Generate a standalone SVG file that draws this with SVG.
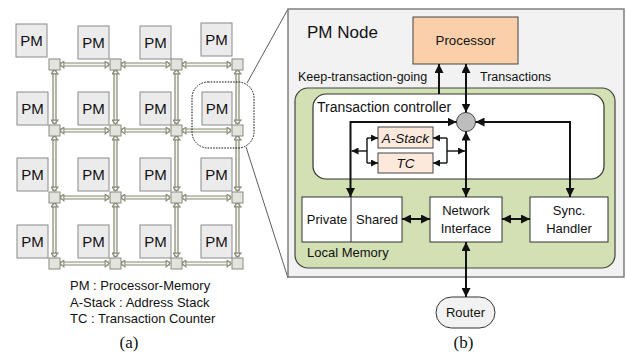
<svg xmlns="http://www.w3.org/2000/svg" width="626" height="354" viewBox="0 0 626 354">
<style>
text{font-family:"Liberation Sans",Arial,sans-serif;fill:#111}
.pm rect{fill:#ebebeb;stroke:#8a8a8a;stroke-width:1}
.pm text{font-size:15px;text-anchor:middle}
.rt{fill:#e4e4de;stroke:#8a8a80;stroke-width:1}
.lo{fill:none;stroke:#858a76;stroke-width:4.2}
.li{fill:none;stroke:#f6f6f0;stroke-width:1.8;marker-start:url(#sa);marker-end:url(#sa)}
.ln{fill:none;stroke:#111;stroke-width:2}
.lb{fill:none;stroke:#111;stroke-width:1.4}
.box{fill:#fff;stroke:#333;stroke-width:1}
.lbl{font-size:13px;text-anchor:middle}
</style>
<defs>
<marker id="sa" markerUnits="userSpaceOnUse" markerWidth="6" markerHeight="8" refX="3.2" refY="3" orient="auto-start-reverse" viewBox="0 0 4 6">
<path d="M0.3,0.4 L3.3,3 L0.3,5.6 z" fill="#f6f6f0" stroke="#858a76" stroke-width="0.8"/>
</marker>
<marker id="ah" markerUnits="userSpaceOnUse" markerWidth="9" markerHeight="9" refX="8" refY="4" orient="auto-start-reverse" viewBox="0 0 8 8">
<path d="M0,0 L8,4 L0,8 z" fill="#111"/>
</marker>
<marker id="as" markerUnits="userSpaceOnUse" markerWidth="7" markerHeight="7" refX="6" refY="3" orient="auto-start-reverse" viewBox="0 0 6 6">
<path d="M0,0 L6,3 L0,6 z" fill="#111"/>
</marker>
</defs>

<!-- (a) mesh -->
<g id="pm-nodes">
<g id="pm11" class="pm"><rect x="16" y="24" width="31" height="33"/><text x="31.5" y="46">PM</text></g>
<g id="pm12" class="pm"><rect x="78" y="26" width="31" height="33"/><text x="93.5" y="48">PM</text></g>
<g id="pm13" class="pm"><rect x="140" y="26" width="31" height="33"/><text x="155.5" y="48">PM</text></g>
<g id="pm14" class="pm"><rect x="201" y="23" width="31" height="33"/><text x="216.5" y="45">PM</text></g>
<g id="pm21" class="pm"><rect x="17" y="92" width="31" height="33"/><text x="32.5" y="114">PM</text></g>
<g id="pm22" class="pm"><rect x="78" y="92" width="31" height="33"/><text x="93.5" y="114">PM</text></g>
<g id="pm23" class="pm"><rect x="140" y="92" width="31" height="33"/><text x="155.5" y="114">PM</text></g>
<g id="pm24" class="pm"><rect x="202" y="92" width="30" height="33"/><text x="217" y="114">PM</text></g>
<g id="pm31" class="pm"><rect x="17" y="158" width="31" height="33"/><text x="32.5" y="180">PM</text></g>
<g id="pm32" class="pm"><rect x="78" y="158" width="31" height="33"/><text x="93.5" y="180">PM</text></g>
<g id="pm33" class="pm"><rect x="140" y="158" width="31" height="33"/><text x="155.5" y="180">PM</text></g>
<g id="pm34" class="pm"><rect x="201" y="158" width="31" height="33"/><text x="216.5" y="180">PM</text></g>
<g id="pm41" class="pm"><rect x="17" y="225" width="31" height="33"/><text x="32.5" y="247">PM</text></g>
<g id="pm42" class="pm"><rect x="78" y="225" width="31" height="33"/><text x="93.5" y="247">PM</text></g>
<g id="pm43" class="pm"><rect x="140" y="225" width="31" height="33"/><text x="155.5" y="247">PM</text></g>
<g id="pm44" class="pm"><rect x="201" y="225" width="31" height="33"/><text x="216.5" y="247">PM</text></g>
</g>

<g id="mesh-links">
<path class="lo" d="M60,64.5 H109 M121,64.5 H170 M182,64.5 H231 M60,130.5 H109 M121,130.5 H170 M182,130.5 H231 M60,197.5 H109 M121,197.5 H170 M182,197.5 H231 M60,263.5 H109 M121,263.5 H170 M182,263.5 H231"/>
<path class="lo" d="M54.5,70 V124 M54.5,136 V191 M54.5,203 V257 M115.5,70 V124 M115.5,136 V191 M115.5,203 V257 M176.5,70 V124 M176.5,136 V191 M176.5,203 V257 M237.5,70 V124 M237.5,136 V191 M237.5,203 V257"/>
<path class="li" d="M60,64.5 H109"/><path class="li" d="M121,64.5 H170"/><path class="li" d="M182,64.5 H231"/>
<path class="li" d="M60,130.5 H109"/><path class="li" d="M121,130.5 H170"/><path class="li" d="M182,130.5 H231"/>
<path class="li" d="M60,197.5 H109"/><path class="li" d="M121,197.5 H170"/><path class="li" d="M182,197.5 H231"/>
<path class="li" d="M60,263.5 H109"/><path class="li" d="M121,263.5 H170"/><path class="li" d="M182,263.5 H231"/>
<path class="li" d="M54.5,70 V124"/><path class="li" d="M54.5,136 V191"/><path class="li" d="M54.5,203 V257"/>
<path class="li" d="M115.5,70 V124"/><path class="li" d="M115.5,136 V191"/><path class="li" d="M115.5,203 V257"/>
<path class="li" d="M176.5,70 V124"/><path class="li" d="M176.5,136 V191"/><path class="li" d="M176.5,203 V257"/>
<path class="li" d="M237.5,70 V124"/><path class="li" d="M237.5,136 V191"/><path class="li" d="M237.5,203 V257"/>
</g>

<g id="routers">
<rect class="rt" x="49" y="59" width="11" height="11"/><rect class="rt" x="110" y="59" width="11" height="11"/><rect class="rt" x="171" y="59" width="11" height="11"/><rect class="rt" x="232" y="59" width="11" height="11"/>
<rect class="rt" x="49" y="125" width="11" height="11"/><rect class="rt" x="110" y="125" width="11" height="11"/><rect class="rt" x="171" y="125" width="11" height="11"/><rect class="rt" x="232" y="125" width="11" height="11"/>
<rect class="rt" x="49" y="192" width="11" height="11"/><rect class="rt" x="110" y="192" width="11" height="11"/><rect class="rt" x="171" y="192" width="11" height="11"/><rect class="rt" x="232" y="192" width="11" height="11"/>
<rect class="rt" x="49" y="258" width="11" height="11"/><rect class="rt" x="110" y="258" width="11" height="11"/><rect class="rt" x="171" y="258" width="11" height="11"/><rect class="rt" x="232" y="258" width="11" height="11"/>
</g>

<g id="zoom-highlight">
<rect x="192" y="82" width="62" height="66" rx="16" fill="none" stroke="#111" stroke-width="1" stroke-dasharray="1.6,1.2"/>
<path d="M247,83 L288,9 M246,147 L288,278" fill="none" stroke="#333" stroke-width="0.8"/>
</g>

<g id="legend">
<text x="70" y="290" font-size="13">PM : Processor-Memory</text>
<text x="70" y="307" font-size="13">A-Stack : Address Stack</text>
<text x="70" y="323" font-size="13">TC : Transaction Counter</text>
<text x="129" y="348" font-size="17" text-anchor="middle" style="font-family:'Liberation Serif','Times New Roman',serif">(a)</text>
</g>

<!-- (b) PM node -->
<g id="pm-node">
<rect x="288" y="9" width="336" height="268" fill="#f2f2f2" stroke="#777" stroke-width="1.4"/>
<text x="307" y="38" font-size="17">PM Node</text>
</g>
<g id="local-memory">
<rect x="295" y="88" width="320" height="180" rx="13" fill="#d2e0b3" stroke="#444" stroke-width="1.2"/>
<text x="307" y="257" font-size="13">Local Memory</text>
</g>
<g id="transaction-controller">
<rect x="313" y="94" width="291" height="85" rx="13" fill="#fff" stroke="#333" stroke-width="1.2"/>
<text x="317" y="112" font-size="14">Transaction controller</text>
</g>
<g id="processor">
<rect x="413" y="17" width="105" height="47" fill="#fbcfaa" stroke="#444" stroke-width="1"/>
<text x="465.5" y="45" font-size="13.3" text-anchor="middle">Processor</text>
</g>
<g id="merge">
<circle cx="466" cy="122" r="9.5" fill="#bdbdbd" stroke="#444" stroke-width="1"/>
</g>
<g id="a-stack">
<rect x="378" y="127" width="55" height="21" fill="#fde9dc" stroke="#444" stroke-width="1"/>
<text x="405.5" y="143" font-size="13.5" font-style="italic" text-anchor="middle">A-Stack</text>
</g>
<g id="tc">
<rect x="378" y="153" width="55" height="20" fill="#fde9dc" stroke="#444" stroke-width="1"/>
<text x="405.5" y="168" font-size="13.5" font-style="italic" text-anchor="middle">TC</text>
</g>
<g id="private-shared">
<rect class="box" x="302" y="197" width="100" height="45"/>
<line x1="351" y1="197" x2="351" y2="242" stroke="#333" stroke-width="1"/>
<text class="lbl" x="327" y="224" font-size="13.5">Private</text>
<text class="lbl" x="377" y="224" font-size="13.5">Shared</text>
</g>
<g id="network-interface">
<rect class="box" x="430" y="197" width="72" height="45"/>
<text class="lbl" x="466" y="215">Network</text>
<text class="lbl" x="466" y="233">Interface</text>
</g>
<g id="sync-handler">
<rect class="box" x="530" y="197" width="78" height="45"/>
<text class="lbl" x="569" y="215">Sync.</text>
<text class="lbl" x="569" y="233">Handler</text>
</g>
<g id="router">
<rect x="436" y="297" width="59" height="31" rx="15.5" fill="#f2f2f2" stroke="#333" stroke-width="1"/>
<text class="lbl" x="465.5" y="317" font-size="13.5">Router</text>
</g>
<text x="463.5" y="348" font-size="17" text-anchor="middle" style="font-family:'Liberation Serif','Times New Roman',serif">(b)</text>

<g id="connectors">
<path class="ln" d="M439,94 V64" marker-end="url(#ah)"/>
<text x="298" y="81" font-size="12.5">Keep-transaction-going</text>
<path class="ln" d="M466,64 V112.5" marker-start="url(#ah)" marker-end="url(#ah)"/>
<text x="480" y="81" font-size="12.5">Transactions</text>
<path class="ln" d="M350.5,197 V122 H456.5" marker-start="url(#ah)" marker-end="url(#ah)"/>
<path class="ln" d="M570,197 V122 H475.5" marker-start="url(#ah)" marker-end="url(#ah)"/>
<path class="ln" d="M466,197 V131.5" marker-start="url(#ah)" marker-end="url(#ah)"/>
<path class="lb" d="M367,138 V163"/>
<path class="lb" d="M367,138 H378" marker-end="url(#as)"/>
<path class="lb" d="M367,163 H378" marker-end="url(#as)"/>
<path class="lb" d="M367,151 H351.5" marker-end="url(#as)"/>
<path class="lb" d="M447,138 V163"/>
<path class="lb" d="M447,138 H433" marker-end="url(#as)"/>
<path class="lb" d="M447,163 H433" marker-end="url(#as)"/>
<path class="lb" d="M447,151 H465" marker-end="url(#as)"/>
<path class="ln" d="M402,219 H430" marker-start="url(#ah)" marker-end="url(#ah)"/>
<path class="ln" d="M502,219 H530" marker-start="url(#ah)" marker-end="url(#ah)"/>
<path class="ln" d="M466,242 V297" marker-start="url(#ah)" marker-end="url(#ah)"/>
</g>
</svg>
